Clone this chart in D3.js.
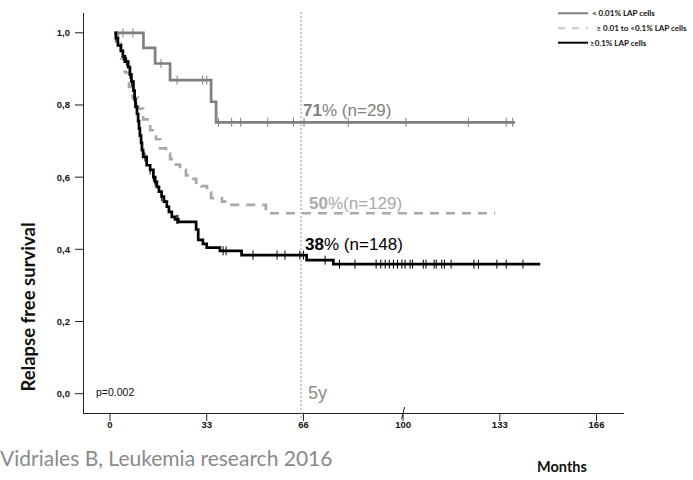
<!DOCTYPE html>
<html>
<head>
<meta charset="utf-8">
<script src="https://cdn.jsdelivr.net/npm/d3@7/dist/d3.min.js"></script>
<style>
  html, body { margin: 0; padding: 0; background: #fff; }
  svg { display: block; }
</style>
</head>
<body>
<svg id="chart" width="693" height="480"></svg>
<script>
// Kaplan-Meier relapse-free survival by level of LAP cells.
// Each group: step times (months) with survival after the step, follow-up end, censored times.
const groupNames = ["< 0.01% LAP  cells", "\u2265 0.01  to <0.1% LAP cells", "\u22650.1% LAP cells"];

const lowTimes  = [1.5, 11.4, 15.4, 20.5, 34.5, 36.2];
const lowValues = [1.0, 0.958, 0.915, 0.869, 0.809, 0.752];
const lowEnd = 138.2;
const lowCensored = [4.4, 7.8, 17.4, 22.9, 31.6, 33.0, 37.0, 41.5, 44.6, 53.8, 62.6, 66.2, 81.3, 101, 122.3, 135.2, 137.4];

const midTimes  = [1.5, 2.7, 3.8, 5.1, 6.5, 7.8, 9.6, 11.3, 13.7, 15.7, 17.1, 19.1, 20.5, 22.5, 23.9, 25.9, 27.3, 29.4, 31.1, 33.1, 34.5, 38.2, 41.0, 53.2];
const midValues = [1.0, 0.97, 0.93, 0.89, 0.85, 0.82, 0.79, 0.76, 0.73, 0.705, 0.68, 0.665, 0.65, 0.635, 0.62, 0.605, 0.595, 0.585, 0.575, 0.558, 0.542, 0.532, 0.523, 0.50];
const midEnd = 131.4;
const midCensored = [];

const highTimes  = [1.5, 2.0, 2.7, 3.7, 4.4, 5.1, 6.2, 6.8, 7.3, 8.0, 8.4, 8.7, 9.2, 9.6, 9.9, 10.2, 10.6, 10.9, 11.3, 12.5, 13.7, 14.8, 15.4, 16.0, 16.7, 17.6, 18.4, 19.4, 20.1, 21.1, 22.2, 23.3, 29.4, 30.1, 31.7, 33.0, 37.5, 44.9, 67.1, 76.2];
const highValues = [1.0, 0.985, 0.965, 0.95, 0.935, 0.92, 0.905, 0.885, 0.865, 0.84, 0.815, 0.795, 0.775, 0.755, 0.735, 0.715, 0.695, 0.675, 0.656, 0.633, 0.62, 0.60, 0.587, 0.573, 0.56, 0.546, 0.532, 0.518, 0.504, 0.49, 0.483, 0.476, 0.455, 0.426, 0.415, 0.405, 0.396, 0.384, 0.370, 0.359];
const highEnd = 146.8;
const highCensored = [2.0, 4.5, 5.7, 6.8, 7.4, 8.5, 9.1, 11.9, 13.7, 14.8, 15.4, 17.6, 22.8, 23.2, 38.6, 39.6, 48.8, 57.0, 59.7, 64.8, 66.0, 73.4, 78.3, 83.6, 90.8, 92.4, 93.9, 95.3, 96.7, 98.1, 99.6, 100.7, 102.4, 103.2, 106.9, 107.8, 110.6, 111.3, 113.2, 114.1, 116.4, 124.2, 125.7, 132.0, 135.2, 140.9];

// 5-year estimates with group sizes
const fiveYearPct = [71, 50, 38];
const groupN = [29, 129, 148];
const referenceMonth = 65.2;
const pValueText = "p=0.002";

const xTicks = [0, 33, 66, 100, 133, 166];
const yTicks = [0.0, 0.2, 0.4, 0.6, 0.8, 1.0];

const svg = d3.select("#chart");

const x = d3.scaleLinear().domain([0, 166]).range([110, 596.5]);
const y = d3.scaleLinear().domain([0, 1]).range([393.7, 32.8]);

const axisColor = "#222";
const sans = "'Liberation Sans', Arial, Roboto, sans-serif";
const humanist = "Lato, 'Open Sans', sans-serif";

// y axis line and ticks
svg.append("line").attr("x1", 83.5).attr("x2", 83.5).attr("y1", 13).attr("y2", 413.5)
  .attr("stroke", axisColor).attr("stroke-width", 1);
const yAxis = svg.append("g");
yAxis.selectAll("line").data(yTicks).join("line")
  .attr("x1", 75).attr("x2", 83.5)
  .attr("y1", d => y(d)).attr("y2", d => y(d))
  .attr("stroke", axisColor);
yAxis.selectAll("text").data(yTicks).join("text")
  .attr("x", 70).attr("y", d => y(d) + 3.5)
  .attr("text-anchor", "end")
  .attr("font-family", sans)
  .attr("font-size", 9.5).attr("font-weight", "bold").attr("fill", "#111")
  .text(d => d3.format(".1f")(d).replace(".", ","));

// x axis line, ticks and labels
svg.append("line").attr("x1", 83).attr("x2", 624).attr("y1", 413.5).attr("y2", 413.5)
  .attr("stroke", axisColor).attr("stroke-width", 1);
const xAxis = svg.append("g");
xAxis.selectAll("line").data(xTicks).join("line")
  .attr("x1", d => x(d)).attr("x2", d => x(d))
  .attr("y1", 413.5).attr("y2", 421)
  .attr("stroke", axisColor);
xAxis.selectAll("text").data(xTicks).join("text")
  .attr("x", d => x(d)).attr("y", 428)
  .attr("text-anchor", "middle")
  .attr("font-family", sans)
  .attr("font-size", 9.5).attr("font-weight", "bold").attr("fill", "#111")
  .text(d => d);

// axis break mark near 100
svg.append("line")
  .attr("x1", x(100) - 1.5).attr("x2", x(100) + 1.5)
  .attr("y1", 419).attr("y2", 407)
  .attr("stroke", axisColor).attr("stroke-width", 1);

// 5-year reference line
svg.append("line")
  .attr("x1", x(referenceMonth)).attr("x2", x(referenceMonth))
  .attr("y1", 12).attr("y2", 420)
  .attr("stroke", "#999").attr("stroke-width", 1).attr("stroke-dasharray", "2,2");

svg.append("text").attr("x", x(referenceMonth) + 7).attr("y", 399)
  .attr("font-family", sans)
  .attr("font-size", 18).attr("fill", "#8c8c8c").text("5y");

svg.append("text").attr("x", 96).attr("y", 396)
  .attr("font-family", sans)
  .attr("font-size", 10.5).attr("fill", "#111").text(pValueText);

// curves
const groups = [
  { times: lowTimes, values: lowValues, end: lowEnd, censored: lowCensored, color: "#7f7f7f", dash: null },
  { times: midTimes, values: midValues, end: midEnd, censored: midCensored, color: "#a9a9a9", dash: "9,7" },
  { times: highTimes, values: highValues, end: highEnd, censored: highCensored, color: "#000", dash: null }
];

function survivalAt(g, t) {
  let v = g.values[0];
  for (let i = 0; i < g.times.length; i++) {
    if (g.times[i] <= t) v = g.values[i];
  }
  return v;
}

const stepLine = d3.line().x(d => x(d[0])).y(d => y(d[1])).curve(d3.curveStepAfter);

// dashed group first, then grey, then black on top
[1, 0, 2].forEach(i => {
  const g = groups[i];
  const pts = g.times.map((t, k) => [t, g.values[k]]);
  pts.push([g.end, g.values[g.values.length - 1]]);
  const path = svg.append("path").datum(pts)
    .attr("d", stepLine)
    .attr("fill", "none")
    .attr("stroke", g.color)
    .attr("stroke-width", 2.7)
    .attr("stroke-linejoin", "miter");
  if (g.dash) path.attr("stroke-dasharray", g.dash);

  svg.append("g").selectAll("line").data(g.censored).join("line")
    .attr("x1", d => x(d)).attr("x2", d => x(d))
    .attr("y1", d => y(survivalAt(g, d)) - 4.5)
    .attr("y2", d => y(survivalAt(g, d)) + 4.5)
    .attr("stroke", g.color).attr("stroke-width", 1);
});

// 5-year annotations
const annot = [
  { x: x(referenceMonth) + 2, y: 116, color: "#7f7f7f", sep: " " },
  { x: x(referenceMonth) + 8, y: 209, color: "#a9a9a9", sep: "" },
  { x: x(referenceMonth) + 4, y: 250, color: "#000", sep: " " }
];
annot.forEach((a, i) => {
  const t = svg.append("text").attr("x", a.x).attr("y", a.y)
    .attr("font-family", sans)
    .attr("font-size", 17).attr("fill", a.color);
  t.append("tspan").attr("font-weight", "bold").text(fiveYearPct[i]);
  t.append("tspan").text("%" + a.sep + "(n=" + groupN[i] + ")");
});

// axis titles
svg.append("text")
  .attr("transform", "translate(35,307) rotate(-90)")
  .attr("text-anchor", "middle")
  .attr("font-family", humanist)
  .attr("font-size", 18.5).attr("font-weight", "bold").attr("fill", "#111")
  .text("Relapse free survival");

svg.append("text").attr("x", 537).attr("y", 472)
  .attr("font-family", humanist)
  .attr("font-size", 14.5).attr("font-weight", "bold").attr("fill", "#111")
  .text("Months");

svg.append("text").attr("x", 0).attr("y", 466)
  .attr("font-family", humanist)
  .attr("font-size", 21).attr("fill", "#8a8a8a")
  .text("Vidriales B, Leukemia research 2016");

// legend
const legendRows = [13.3, 28.3, 42.7];
const legend = svg.append("g");
groups.forEach((g, i) => {
  const ln = legend.append("line")
    .attr("x1", 558).attr("x2", 588)
    .attr("y1", legendRows[i]).attr("y2", legendRows[i])
    .attr("stroke", i === 1 ? "#c8c8c8" : g.color).attr("stroke-width", 2);
  if (i === 1) ln.attr("stroke-dasharray", "7,7");
  legend.append("text")
    .attr("x", i === 1 ? 596.5 : (i === 0 ? 592 : 590)).attr("y", legendRows[i] + 3)
    .attr("font-family", humanist)
    .attr("font-size", 8).attr("font-weight", "bold").attr("fill", "#111")
    .text(groupNames[i]);
});
</script>
</body>
</html>
